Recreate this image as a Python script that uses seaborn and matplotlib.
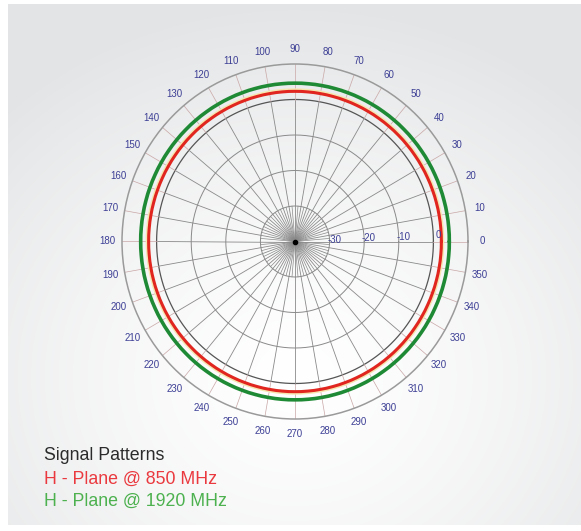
"""
Diagrama polar de radiación (plano H) a 850 MHz y 1920 MHz.
"""

import numpy as np
import matplotlib
matplotlib.use("Agg")
import matplotlib.pyplot as plt
import seaborn as sns

# Ángulos de medida (grados) y nivel relativo en dB
angles_deg = [0, 10, 20, 30, 40, 50, 60, 70, 80, 90, 100, 110, 120,
              130, 140, 150, 160, 170, 180, 190, 200, 210, 220, 230, 240,
              250, 260, 270, 280, 290, 300, 310, 320, 330, 340, 350, 360]
h850_db = [2.3, 2.3, 2.3, 2.3, 2.3, 2.3, 2.3, 2.3, 2.3, 2.3, 2.3, 2.3, 2.3,
           2.3, 2.3, 2.3, 2.3, 2.3, 2.3, 2.3, 2.3, 2.3, 2.3, 2.3, 2.3,
           2.3, 2.3, 2.3, 2.3, 2.3, 2.3, 2.3, 2.3, 2.3, 2.3, 2.3, 2.3]
h1920_db = [4.6, 4.6, 4.6, 4.6, 4.6, 4.6, 4.6, 4.6, 4.6, 4.6, 4.6, 4.6, 4.6,
            4.6, 4.6, 4.6, 4.6, 4.6, 4.6, 4.6, 4.6, 4.6, 4.6, 4.6, 4.6,
            4.6, 4.6, 4.6, 4.6, 4.6, 4.6, 4.6, 4.6, 4.6, 4.6, 4.6, 4.6]

ring_levels = [-30, -20, -10, 0]
ring_labels = ["-30", "-20", "-10", "0"]
angle_ticks = [0, 10, 20, 30, 40, 50, 60, 70, 80, 90, 100, 110, 120, 130,
               140, 150, 160, 170, 180, 190, 200, 210, 220, 230, 240, 250,
               260, 270, 280, 290, 300, 310, 320, 330, 340, 350]
r_min, r_max = -40, 10

LABEL_BLUE = "#3d3f95"
GRID = "#8a8a8a"
RED = "#e0261f"
GREEN = "#1f8a35"

sns.set_style("white")
plt.rcParams["font.family"] = ["Liberation Sans", "DejaVu Sans"]

W, H = 581, 531
fig = plt.figure(figsize=(W / 100, H / 100), dpi=100)
fig.patch.set_facecolor("white")

# Fondo gris con degradado radial
bg = fig.add_axes([8 / W, 6 / H, (W - 8) / W, (H - 10) / H])
yy, xx = np.mgrid[0:H, 0:W - 8]
d = np.hypot(xx - 287, (yy - 380) * 1.1) / 420
d = np.clip(d, 0, 1)
lo = np.array([1.0, 1.0, 1.0])
hi = np.array([0.89, 0.895, 0.9])
img = lo[None, None, :] * (1 - d[..., None] ** 1.4) + hi[None, None, :] * d[..., None] ** 1.4
bg.imshow(img, aspect="auto", interpolation="bilinear")
bg.axis("off")

# Eje polar (ligeramente estirado en vertical como el original)
cx, cy, rx, ry = 295, 241.5, 173, 177.5
ax = fig.add_axes([(cx - rx) / W, (H - cy - ry) / H, 2 * rx / W, 2 * ry / H],
                  projection="polar")
ax.set_aspect("auto")
ax.patch.set_alpha(0)
ax.set_ylim(r_min, r_max)
ax.grid(False)
ax.spines["polar"].set_color("#9a9a9a")
ax.spines["polar"].set_linewidth(1.1)
ax.set_yticks([])

theta_fine = np.linspace(0, 2 * np.pi, 361)
for lvl in ring_levels:
    ax.plot(theta_fine, np.full_like(theta_fine, lvl),
            color="#555555" if lvl == 0 else GRID, lw=0.9 if lvl == 0 else 0.7, zorder=1)

for a in range(0, 360, 10):
    t = np.deg2rad(a)
    ax.plot([t, t], [r_min, 0], color=GRID, lw=0.6, zorder=1)
    ax.plot([t, t], [0, r_max], color="#c9a6a6", lw=0.5, zorder=1)
for a in range(5, 360, 10):
    t = np.deg2rad(a)
    ax.plot([t, t], [r_min, -30], color=GRID, lw=0.5, zorder=1)
ax.plot([0], [r_min], marker="o", ms=3, color="black", zorder=3)

# Curvas de radiación
theta = np.deg2rad(angles_deg)
sns.lineplot(x=theta, y=np.array(h1920_db), sort=False, ax=ax,
             color=GREEN, lw=2.6, zorder=4)
sns.lineplot(x=theta, y=np.array(h850_db) + 0.45, sort=False, ax=ax,
             color="#f6e7b0", lw=2.0, zorder=4)
sns.lineplot(x=theta, y=np.array(h850_db), sort=False, ax=ax,
             color=RED, lw=2.2, zorder=5)
# arcos suaves entre puntos medidos (el trazo polar, no los datos)
for ln in ax.lines[-3:]:
    ln.get_path()._interpolation_steps = 40
ax.set_xlabel("")
ax.set_ylabel("")

ax.set_xticks(np.deg2rad(angle_ticks))
ax.set_xticklabels([str(a) for a in angle_ticks], color=LABEL_BLUE, fontsize=7)
ax.tick_params(axis="x", pad=0)

for lvl, lab in zip(ring_levels, ring_labels):
    ax.text(np.deg2rad(2.5), lvl + 1.4, lab, color=LABEL_BLUE, fontsize=7,
            ha="center", va="center", zorder=6)

# Leyenda en texto
fig.text(44 / W, 1 - 456 / H, "Signal Patterns", color="#2b2b2b",
         fontsize=12.8, va="center", ha="left")
fig.text(44 / W, 1 - 479 / H, "H - Plane @ 850 MHz", color="#ea3a3f",
         fontsize=12.8, va="center", ha="left")
fig.text(44 / W, 1 - 501 / H, "H - Plane @ 1920 MHz", color="#4cb14e",
         fontsize=12.8, va="center", ha="left")

fig.savefig("out.png", dpi=100)
